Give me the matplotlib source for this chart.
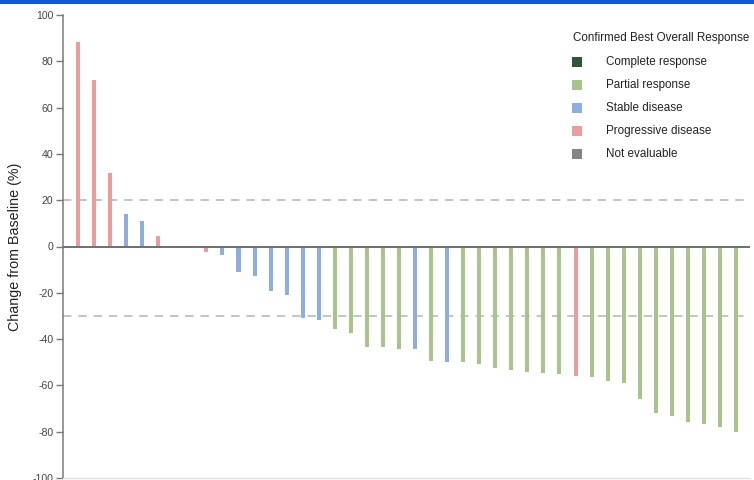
import matplotlib
matplotlib.use("Agg")
import matplotlib.pyplot as plt
from matplotlib.patches import Rectangle

plt.rcParams['font.family'] = ['Liberation Sans', 'DejaVu Sans']

# Best percentage change from baseline per patient, in waterfall order
changes = [88.2, 71.8, 31.9, 13.9, 11.2, 4.4, 0.0, 0.0, -2.2, -3.7,
           -10.9, -12.8, -19.3, -21.0, -30.7, -31.8, -35.8, -37.5, -43.2, -43.5,
           -44.1, -44.1, -49.4, -50.1, -50.1, -50.9, -52.4, -53.4, -54.3, -54.6,
           -55.2, -55.9, -56.2, -58.2, -59.1, -65.9, -72.0, -73.4, -75.6, -76.6,
           -78.0, -80.3]
responses = ['PD', 'PD', 'PD', 'SD', 'SD', 'PD', 'SD', 'SD', 'PD', 'SD',
             'SD', 'SD', 'SD', 'SD', 'SD', 'SD', 'PR', 'PR', 'PR', 'PR',
             'PR', 'SD', 'PR', 'SD', 'PR', 'PR', 'PR', 'PR', 'PR', 'PR',
             'PR', 'PD', 'PR', 'PR', 'PR', 'PR', 'PR', 'PR', 'PR', 'PR',
             'PR', 'PR']

legend_title = 'Confirmed Best Overall Response'
legend_keys = ['CR', 'PR', 'SD', 'PD', 'NE']
legend_labels = ['Complete response', 'Partial response', 'Stable disease',
                 'Progressive disease', 'Not evaluable']
thresholds = [20, -30]
yticks = [-100, -80, -60, -40, -20, 0, 20, 40, 60, 80, 100]

bar_colors = {'CR': '#2f5535', 'PR': '#a9c48b', 'SD': '#8eaee0',
              'PD': '#eb9d9d', 'NE': '#858585'}

W, H = 754, 480
fig = plt.figure(figsize=(W / 100, H / 100), dpi=100)
fig.patch.set_facecolor('white')

# thin blue banner along the top edge
fig.patches.append(Rectangle((0, 1 - 3.5 / H), 1, 3.5 / H, transform=fig.transFigure,
                             facecolor='#1259d4', edgecolor='none', zorder=0))

ax = fig.add_axes([63 / W, 2 / H, (750 - 63) / W, (478 - 15) / H])

x = list(range(len(changes)))
ax.bar(x, changes, width=0.25, color=[bar_colors[r] for r in responses],
       edgecolor='none', zorder=2)

ax.axhline(0, color='#6e6e6e', lw=1.4, zorder=3)
for t in thresholds:
    ax.axhline(t, color='#b4b4b4', lw=1.1, dashes=(5.5, 4.5), zorder=1)

ax.set_xlim(-0.935, 41.87)
ax.set_ylim(-100, 100)
ax.set_yticks(yticks)
ax.set_yticklabels([str(v) for v in yticks])
ax.set_xticks([])

for s in ['top', 'right']:
    ax.spines[s].set_visible(False)
ax.spines['bottom'].set_color('#e2e2e2')
ax.spines['bottom'].set_linewidth(1.0)
ax.spines['left'].set_color('#7a7a7a')
ax.spines['left'].set_linewidth(1.1)
ax.tick_params(axis='y', length=5, width=1.0, color='#7a7a7a',
               labelsize=7.6, labelcolor='#444444', pad=2)

ax.set_ylabel('Change from Baseline (%)', fontsize=10.3, color='#222222')
ax.yaxis.set_label_coords(-(63 - 22) / (750 - 63), 0.5)

# legend drawn as figure text and squares
fig.text(573 / W, 1 - 38 / H, legend_title, fontsize=8.4, color='#222222',
         ha='left', va='center')
for i, (k, lab) in enumerate(zip(legend_keys, legend_labels)):
    yc = 62 + 23 * i
    fig.patches.append(Rectangle((572 / W, 1 - (yc + 5) / H), 10 / W, 10 / H,
                                 transform=fig.transFigure,
                                 facecolor=bar_colors[k], edgecolor='none'))
    fig.text(606 / W, 1 - yc / H, lab, fontsize=8.4, color='#222222',
             ha='left', va='center')

fig.savefig('out.png', dpi=100)
